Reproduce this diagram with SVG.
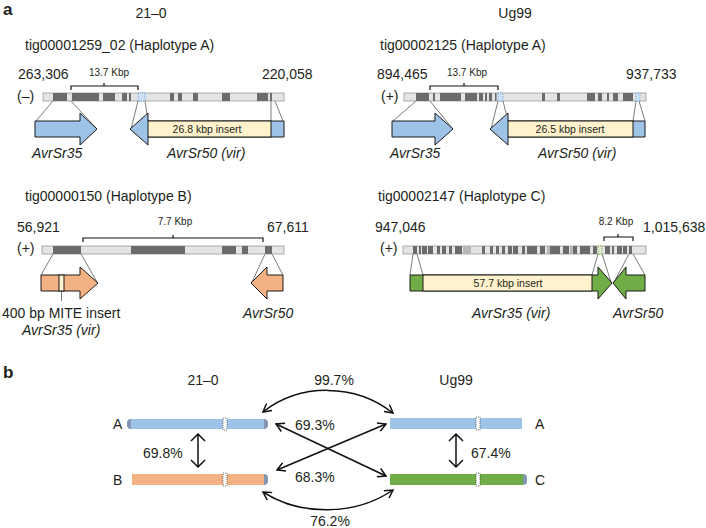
<svg xmlns="http://www.w3.org/2000/svg" width="706" height="528" viewBox="0 0 706 528">
<style>
text{font-family:"Liberation Sans",Arial,sans-serif;fill:#231f20}
.t14{font-size:14px}
.it{font-style:italic;font-size:14px}
.sm{font-size:10px}
.ins{font-size:10.5px}
.pl{font-size:17px;font-weight:bold}
.track{fill:#e4e4e4;stroke:#9a9a9a;stroke-width:0.8}
.blk{fill:#6b6b6b}
.map{stroke:#5a5a5a;stroke-width:0.8;fill:none}
.brk{stroke:#111;stroke-width:1.2;fill:none}
.gene{stroke:#1b1b1b;stroke-width:1}
.blue{fill:#9dc3e6}
.orange{fill:#f4b183}
.green{fill:#70ad47}
.yellow{fill:#fff2cc;stroke:#1b1b1b;stroke-width:1}
.dotb{fill:#cfe2f3;stroke:#5b9bd5;stroke-width:0.8;stroke-dasharray:1 1}
.dotg{fill:#d9ead3;stroke:#70ad47;stroke-width:0.8;stroke-dasharray:1 1}
.cap{fill:#8497b0}
.mark{fill:#fff;stroke:#333;stroke-width:0.7;stroke-dasharray:1 1}
.arr{stroke:#111;stroke-width:1.5;fill:none}
</style>
<defs>
<marker id="vh" viewBox="0 0 10 10" refX="9" refY="5" markerWidth="10" markerHeight="10" markerUnits="userSpaceOnUse" orient="auto-start-reverse">
<path d="M1,0.5 L9,5 L1,9.5" fill="none" stroke="#111" stroke-width="1.5"/>
</marker>
</defs>

<text class="pl" x="3" y="15">a</text>
<text class="pl" x="3" y="378">b</text>

<!-- connectors -->
<g id="connectors">
<g id="map-lines">
<path class="map" d="M53,101 L36,121 M71,101 L96,128 M138,101 L131,129 M145,101 L148,121 M271,101 L271,121 M275,101 L283,121"/>
<path class="map" d="M416,101 L393,121 M430,101 L452,128 M498,101 L491,129 M503,101 L508,121 M636,101 L633,121 M639,101 L645,121"/>
<path class="map" d="M53,254 L41,275 M81,254 L97,282 M265,254 L252,282 M272,254 L283,275"/>
<path class="map" d="M413,254 L410,275 M417,254 L423,275 M598,254 L592,275 M602,254 L611,282 M629,254 L614,282 M633,254 L645,275"/>
<path class="map" d="M61.5,291 V301"/>
</g>
<g id="similarity-arrows">
<path class="arr" d="M198,434 V467 M191,441 L198,434 L205,441 M191,460 L198,467 L205,460"/>
<path class="arr" d="M456,434 V467 M449,441 L456,434 L463,441 M449,460 L456,467 L463,460"/>
<path class="arr" d="M263,412 C300,383 355,383 393,413" marker-start="url(#vh)" marker-end="url(#vh)"/>
<path class="arr" d="M263,492 C300,516 355,516 393,490" marker-start="url(#vh)" marker-end="url(#vh)"/>
<path class="arr" d="M276,424 L386,476" marker-start="url(#vh)" marker-end="url(#vh)"/>
<path class="arr" d="M277,470 L386,424" marker-start="url(#vh)" marker-end="url(#vh)"/>
</g>
</g>

<!-- Panel a, 21-0 haplotype A -->
<g id="a-21-0-A">
<text class="t14" x="151" y="18" text-anchor="middle">21–0</text>
<text class="t14" x="25" y="50">tig00001259_02 (Haplotype A)</text>
<text class="t14" x="18" y="79">263,306</text>
<text class="sm" x="109" y="76" text-anchor="middle">13.7 Kbp</text>
<text class="t14" x="262" y="79">220,058</text>
<path class="brk" d="M71,90 V86 H138 V90 M104,86 V83"/>
<text class="t14" x="17" y="101">(–)</text>
<rect class="track" x="43" y="93" width="241" height="8"/>
<g class="blk">
<rect x="53" y="93" width="14" height="8"/><rect x="72" y="93" width="27" height="8"/><rect x="103" y="93" width="12" height="8"/><rect x="122" y="93" width="5" height="8"/><rect x="129" y="93" width="2" height="8"/><rect x="170" y="93" width="4" height="8"/><rect x="178" y="93" width="4" height="8"/><rect x="193" y="93" width="5" height="8"/><rect x="222" y="93" width="8" height="8"/><rect x="257" y="93" width="11" height="8"/><rect x="270" y="93" width="2" height="8"/>
</g>
<rect class="dotb" x="138" y="93" width="7" height="8"/>
<path class="gene blue" d="M35,121 H80 V113 L97,129 L80,145 V137 H35 Z"/>
<path class="gene blue" d="M130,129 L148,113 V121 H284 V137 H148 V145 Z"/>
<rect class="yellow" x="148" y="121" width="123" height="16"/>
<text class="ins" x="207" y="133" text-anchor="middle">26.8 kbp insert</text>
<text class="it" x="32" y="158">AvrSr35</text>
<text class="it" x="167" y="158">AvrSr50 (vir)</text>
</g>

<!-- Panel a, Ug99 haplotype A -->
<g id="a-Ug99-A">
<text class="t14" x="515" y="18" text-anchor="middle">Ug99</text>
<text class="t14" x="380" y="50">tig00002125 (Haplotype A)</text>
<text class="t14" x="377" y="79">894,465</text>
<text class="sm" x="467" y="76" text-anchor="middle">13.7 Kbp</text>
<text class="t14" x="626" y="79">937,733</text>
<path class="brk" d="M430,90 V86 H498 V90 M464,86 V83"/>
<text class="t14" x="381" y="101">(+)</text>
<rect class="track" x="404" y="93" width="242" height="8"/>
<g class="blk">
<rect x="416" y="93" width="13" height="8"/><rect x="433" y="93" width="2" height="8"/><rect x="440" y="93" width="21" height="8"/><rect x="465" y="93" width="12" height="8"/><rect x="479" y="93" width="4" height="8"/><rect x="485" y="93" width="2" height="8"/><rect x="489" y="93" width="3" height="8"/><rect x="495" y="93" width="1.5" height="8"/><rect x="542" y="93" width="3" height="8"/><rect x="557" y="93" width="3" height="8"/><rect x="587" y="93" width="8" height="8"/><rect x="598" y="93" width="4" height="8"/><rect x="607" y="93" width="2" height="8"/><rect x="613" y="93" width="5" height="8"/><rect x="623" y="93" width="10" height="8"/>
</g>
<rect class="dotb" x="498" y="93" width="5" height="8"/>
<rect class="dotb" x="636" y="93" width="4" height="8"/>
<path class="gene blue" d="M392,121 H435 V113 L453,129 L435,145 V137 H392 Z"/>
<path class="gene blue" d="M490,129 L508,113 V121 H645 V137 H508 V145 Z"/>
<rect class="yellow" x="508" y="121" width="125" height="16"/>
<text class="ins" x="570" y="133" text-anchor="middle">26.5 kbp insert</text>
<text class="it" x="390" y="158">AvrSr35</text>
<text class="it" x="538" y="158">AvrSr50 (vir)</text>
</g>

<!-- Panel a, 21-0 haplotype B -->
<g id="a-21-0-B">
<text class="t14" x="25" y="201">tig00000150 (Haplotype B)</text>
<text class="t14" x="17" y="232">56,921</text>
<text class="sm" x="175" y="225" text-anchor="middle">7.7 Kbp</text>
<text class="t14" x="267" y="232">67,611</text>
<path class="brk" d="M83,242 V238 H263 V242 M173,238 V235"/>
<text class="t14" x="17" y="253">(+)</text>
<rect class="track" x="42" y="246" width="242" height="8"/>
<g class="blk">
<rect x="53" y="246" width="28" height="8"/><rect x="131" y="246" width="54" height="8"/><rect x="222" y="246" width="14" height="8"/><rect x="242" y="246" width="6" height="8"/><rect x="265" y="246" width="7" height="8"/>
</g>
<path class="gene orange" d="M41,275 H80 V267 L98,283 L80,299 V291 H41 Z"/>
<rect class="yellow" x="59" y="275" width="5" height="16"/>
<path class="gene orange" d="M251,283 L267,267 V275 H283 V291 H267 V299 Z"/>
<text class="t14" x="2" y="318">400 bp MITE insert</text>
<text class="it" x="22" y="335">AvrSr35 (vir)</text>
<text class="it" x="243" y="318">AvrSr50</text>
</g>

<!-- Panel a, Ug99 haplotype C -->
<g id="a-Ug99-C">
<text class="t14" x="378" y="201">tig00002147 (Haplotype C)</text>
<text class="t14" x="375" y="232">947,046</text>
<text class="sm" x="616" y="225" text-anchor="middle">8.2 Kbp</text>
<text class="t14" x="643" y="232">1,015,638</text>
<path class="brk" d="M604,241 V237 H633 V241 M618,237 V234"/>
<text class="t14" x="380" y="253">(+)</text>
<rect class="track" x="403" y="246" width="243" height="8"/>
<g fill="#b8b8b8">
<rect x="463" y="246" width="8" height="8"/><rect x="547" y="246" width="3" height="8"/><rect x="570" y="246" width="3" height="8"/>
</g>
<g class="blk">
<rect x="413" y="246" width="4" height="8"/><rect x="419" y="246" width="2" height="8"/><rect x="422" y="246" width="5" height="8"/><rect x="428" y="246" width="5" height="8"/><rect x="437" y="246" width="3" height="8"/><rect x="442" y="246" width="4" height="8"/><rect x="449" y="246" width="3" height="8"/><rect x="455" y="246" width="7" height="8"/><rect x="482" y="246" width="3" height="8"/><rect x="490" y="246" width="3" height="8"/><rect x="496" y="246" width="3" height="8"/><rect x="502" y="246" width="3" height="8"/><rect x="508" y="246" width="4" height="8"/><rect x="513" y="246" width="5" height="8"/><rect x="522" y="246" width="3" height="8"/><rect x="527" y="246" width="10" height="8"/><rect x="540" y="246" width="5" height="8"/><rect x="550" y="246" width="10" height="8"/><rect x="563" y="246" width="6" height="8"/><rect x="573" y="246" width="4" height="8"/><rect x="580" y="246" width="10" height="8"/><rect x="593" y="246" width="4" height="8"/><rect x="605" y="246" width="5" height="8"/><rect x="612" y="246" width="2" height="8"/><rect x="617" y="246" width="5" height="8"/><rect x="623" y="246" width="4" height="8"/><rect x="629" y="246" width="3" height="8"/>
</g>
<rect class="dotg" x="598" y="246" width="4" height="8"/>
<path class="gene green" d="M410,275 H598 V267 L612,283 L598,299 V291 H410 Z"/>
<rect class="yellow" x="423" y="275" width="169" height="16"/>
<text class="ins" x="508" y="287" text-anchor="middle">57.7 kbp insert</text>
<path class="gene green" d="M613,283 L626,267 V275 H645 V291 H626 V299 Z"/>
<text class="it" x="472" y="318">AvrSr35 (vir)</text>
<text class="it" x="613" y="318">AvrSr50</text>
</g>

<!-- Panel b -->
<g id="b-21-0-A">
<text class="t14" x="203" y="385" text-anchor="middle">21–0</text>
<text class="t14" x="113" y="429">A</text>
<rect class="cap" x="127" y="419" width="141" height="10" rx="4"/>
<rect class="blue" x="131" y="419" width="133" height="10"/>
<rect class="mark" x="223" y="418" width="4" height="12"/>
</g>
<g id="b-21-0-B">
<text class="t14" x="113" y="485">B</text>
<rect class="cap" x="256" y="474" width="12" height="11" rx="4"/>
<rect class="orange" x="132" y="474" width="132" height="11"/>
<rect class="mark" x="223" y="473" width="4" height="13"/>
</g>
<g id="b-Ug99-A">
<text class="t14" x="456" y="385" text-anchor="middle">Ug99</text>
<rect class="blue" x="390" y="418" width="132" height="11"/>
<rect class="mark" x="476" y="417" width="4" height="13"/>
<text class="t14" x="535" y="429">A</text>
</g>
<g id="b-Ug99-C">
<rect class="cap" x="515" y="474" width="12" height="11" rx="4"/>
<rect class="green" x="390" y="474" width="133" height="11"/>
<rect class="mark" x="476" y="473" width="4" height="13"/>
<text class="t14" x="535" y="485">C</text>
</g>
<g id="b-labels">
<text class="t14" x="334" y="385" text-anchor="middle">99.7%</text>
<text class="t14" x="295" y="430">69.3%</text>
<text class="t14" x="143" y="458">69.8%</text>
<text class="t14" x="471" y="458">67.4%</text>
<text class="t14" x="295" y="482">68.3%</text>
<text class="t14" x="330" y="526" text-anchor="middle">76.2%</text>
</g>
</svg>
